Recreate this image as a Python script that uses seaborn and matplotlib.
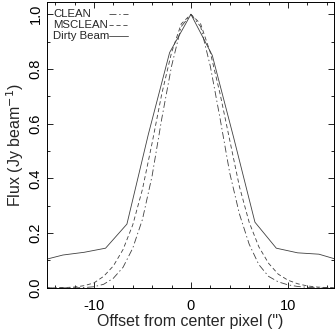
import numpy as np
import pandas as pd
import matplotlib
matplotlib.use("Agg")
import matplotlib.pyplot as plt
from matplotlib.ticker import MultipleLocator
import seaborn as sns

# beam profiles
offset_smooth = list(range(-15, 16))
clean = [0, 0, 0, 0, 0.001, 0.004, 0.013, 0.035, 0.075, 0.145, 0.25, 0.41, 0.62, 0.81, 0.955,
         1.0,
         0.955, 0.81, 0.62, 0.42, 0.27, 0.16, 0.085, 0.042, 0.022, 0.011, 0.005, 0.002, 0, 0, 0]
msclean = [0, 0, 0.001, 0.003, 0.008, 0.018, 0.042, 0.08, 0.14, 0.23, 0.36, 0.53, 0.71, 0.86, 0.965,
           1.0,
           0.965, 0.86, 0.71, 0.54, 0.37, 0.24, 0.15, 0.09, 0.05, 0.028, 0.015, 0.007, 0.003, 0.001, 0]

offset_pix = [-15.4, -13.2, -11.0, -8.8, -6.6, -4.4, -2.2, 0.0, 2.2, 4.4, 6.6, 8.8, 11.0, 13.2, 15.4]
dirty = [0.10, 0.12, 0.13, 0.145, 0.233, 0.56, 0.86, 1.0, 0.85, 0.55, 0.24, 0.145, 0.128, 0.123, 0.10]

labels = ["CLEAN", "MSCLEAN", "Dirty Beam"]

sns.set_theme(style="ticks")
plt.rcParams["font.family"] = ["Liberation Sans", "DejaVu Sans"]
plt.rcParams["axes.unicode_minus"] = False
plt.rcParams["lines.scale_dashes"] = False

line_color = "#404040"
styles = {
    "CLEAN": (0, (5, 2, 1, 2)),
    "MSCLEAN": (0, (3, 2)),
    "Dirty Beam": "-",
}

fig = plt.figure(figsize=(3.35, 3.32), dpi=100)
ax = fig.add_axes([0.140, 0.133, 0.857, 0.861])

df_clean = pd.DataFrame({"x": offset_smooth, "y": clean})
df_ms = pd.DataFrame({"x": offset_smooth, "y": msclean})
df_dirty = pd.DataFrame({"x": offset_pix, "y": dirty})

for name, d in zip(labels, [df_clean, df_ms, df_dirty]):
    sns.lineplot(data=d, x="x", y="y", ax=ax, color=line_color, linewidth=0.6,
                 linestyle=styles[name], sort=False, estimator=None)

ax.set_xlim(-14.85, 14.75)
ax.set_ylim(0, 1.045)

ax.set_xticks([-10, 0, 10])
ax.xaxis.set_minor_locator(MultipleLocator(2))
ax.set_yticks([0.0, 0.2, 0.4, 0.6, 0.8, 1.0])
ax.set_yticklabels(["0.0", "0.2", "0.4", "0.6", "0.8", "1.0"])
ax.yaxis.set_minor_locator(MultipleLocator(0.1))

ax.tick_params(which="both", direction="in", top=True, right=True, width=0.6, colors="black")
ax.tick_params(which="major", length=4)
ax.tick_params(which="minor", length=2.5)
ax.tick_params(axis="x", labelsize=10.5, pad=8)
ax.tick_params(axis="y", labelsize=10.5, pad=3)
for t in ax.get_yticklabels():
    t.set_rotation(90)
    t.set_va("center")

for s in ax.spines.values():
    s.set_linewidth(0.7)
    s.set_color("black")

ax.set_xlabel("Offset from center pixel (\")", fontsize=11.5, labelpad=1)
ax.set_ylabel("Flux (Jy beam$^{-1}$)", fontsize=11.5, labelpad=2)

# legend: labels on the left, line samples on the right
leg_y = [0.958, 0.920, 0.882]
for name, yy in zip(labels, leg_y):
    ax.text(0.021, yy, name, transform=ax.transAxes, fontsize=8.2, va="center", ha="left")
    ax.plot([0.215, 0.282], [yy, yy], transform=ax.transAxes, color=line_color,
            linewidth=0.6, linestyle=styles[name])

fig.savefig("out.png", dpi=100)
